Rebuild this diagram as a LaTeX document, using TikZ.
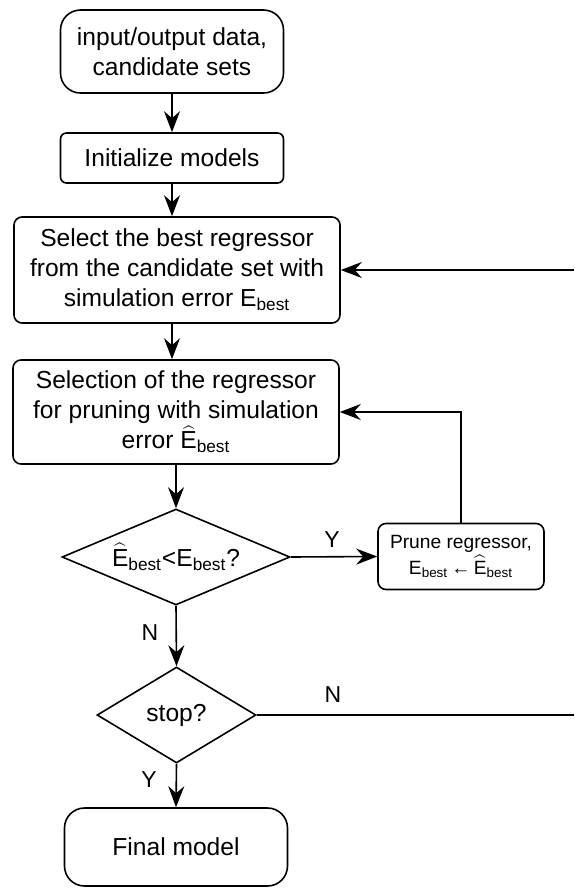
\documentclass[tikz,border=0pt]{standalone}
\usepackage{fontspec}
\setmainfont{Liberation Sans}
\usetikzlibrary{shapes.geometric,arrows.meta}
\newcommand{\Ehat}{$\widehat{\mbox{E}}$}

\begin{document}
\begin{tikzpicture}[x=0.5pt,y=-0.5pt,line width=0.8pt,
  >={Stealth[length=10.5pt,width=8pt,inset=3.5pt]},
  every node/.style={font=\fontsize{12.3}{15}\selectfont,align=center,inner sep=0pt},
  term/.style={draw,rounded corners=10pt,minimum width=111.5pt},
  proc/.style={draw,rounded corners=4pt,minimum width=163pt},
  cond/.style={draw,diamond,minimum height=48pt},
  yn/.style={font=\fontsize{11.5}{14}\selectfont}]
  \useasboundingbox (0,0) rectangle (574,889);
  \coordinate (rim) at (574,0);
  \node[term,minimum height=41.5pt] (data) at (172,51.5) {input/output data,\\candidate sets};
  \node[term,rounded corners=3pt,minimum height=25pt] (init) at (172,158) {Initialize models};
  \node[proc,minimum height=53pt] (select) at (177,270)
    {Select the best regressor\\from the candidate set with\\simulation error E\textsubscript{best}};
  \node[proc,minimum height=52pt] (selection) at (176,412)
    {Selection of the regressor\\for pruning with simulation\\error \Ehat\textsubscript{best}};
  \node[cond,aspect=2.375,minimum width=114pt] (better) at (176,557)
    {\Ehat\textsubscript{best}<E\textsubscript{best}?};
  \node[draw,rounded corners=4pt,minimum width=83pt,minimum height=33pt,
    font=\fontsize{9.6}{13}\selectfont] (prune) at (461,556.5)
    {Prune regressor,\\E\textsubscript{best}\,←\,\Ehat\textsubscript{best}};
  \node[cond,aspect=1.656,minimum width=79.5pt] (stop) at (176.5,715) {stop?};
  \node[term,minimum height=39pt] (final) at (176,847) {Final model};
  \node[yn] (yes1) at (332,540) {Y};
  \node[yn] (no1) at (150,633) {N};
  \node[yn] (no2) at (333,695) {N};
  \node[yn] (yes2) at (149,780) {Y};

  \draw[->] (data) -- (init);
  \draw[->] (init.south) -- (init.south |- select.north);
  \draw[->] (init.south |- select.south) -- (init.south |- selection.north);
  \draw[->] (selection.south) -- (better.north);
  \draw[->] (better.east) -- (prune.west);
  \draw[->] (prune.north) |- (selection.east);
  \draw[->] (better.south) -- (stop.north);
  \draw[->] (stop.south) -- (final.north);
  \draw (stop.east) -- (stop.east -| rim);
  \draw[->] (rim |- select.east) -- (select.east);
\end{tikzpicture}
\end{document}
